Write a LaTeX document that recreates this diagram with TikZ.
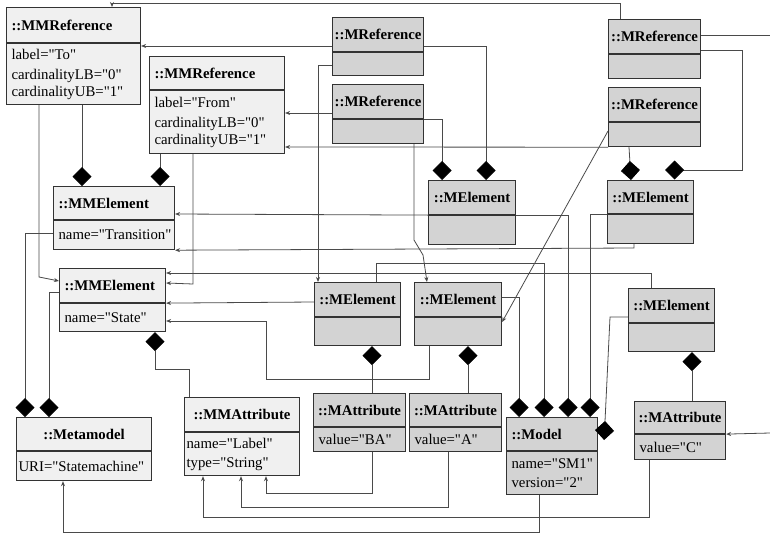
\documentclass[tikz,border=0pt]{standalone}
\usepackage{fontspec}
\setmainfont{Liberation Serif}[Ligatures=TeXOff]
\usetikzlibrary{arrows.meta,calc}
\definecolor{mmfill}{HTML}{F0F0F0}
\definecolor{mfill}{HTML}{D3D3D3}
\definecolor{boxline}{HTML}{333333}
\definecolor{wire}{HTML}{4A4A4A}
\newcommand\boxfont{\fontsize{14.8pt}{17pt}\selectfont}
\tikzset{
  boxhead/.style={draw=boxline, line width=1.1pt, anchor=north west, inner xsep=5pt, inner ysep=0pt, font=\boxfont\bfseries},
  boxbody/.style={draw=boxline, line width=1.1pt, anchor=north west, inner xsep=5pt, inner ysep=0pt, align=left, font=\boxfont},
  metabox/.style={fill=mmfill},
  modelbox/.style={fill=mfill},
  plainwire/.style={draw=wire, line width=0.8pt},
  reflink/.style={plainwire, -{Stealth[length=5pt,width=4pt]}},
  complink/.style={plainwire, -{Diamond[length=19pt,width=19pt,color=black,fill=black]}}
}

\begin{document}
\begin{tikzpicture}[x=1pt, y=-1pt, every node/.style={font=\boxfont}]
  \useasboundingbox (0,0) rectangle (770,535);
  % metamodel objects
  \node[boxhead, metabox, align=left, text width=124pt, minimum height=35pt] (refTo) at (6,7) {::MMReference};
  \node[boxbody, metabox, text width=124pt, minimum height=61pt] (refToB) at (refTo.south west) {label="To"\\[3pt]cardinalityLB="0"\\cardinalityUB="1"};
  \node[boxhead, metabox, align=left, text width=125pt, minimum height=33pt] (refFrom) at (149,56) {::MMReference};
  \node[boxbody, metabox, text width=125pt, minimum height=63pt] (refFromB) at (refFrom.south west) {label="From"\\[3pt]cardinalityLB="0"\\cardinalityUB="1"};
  \node[boxhead, metabox, align=left, text width=111pt, minimum height=33pt] (elTrans) at (53,186) {::MMElement};
  \node[boxbody, metabox, text width=111pt, minimum height=29pt] (elTransB) at (elTrans.south west) {name="Transition"};
  \node[boxhead, metabox, align=left, text width=96pt, minimum height=34pt] (elState) at (59,268) {::MMElement};
  \node[boxbody, metabox, text width=96pt, minimum height=28pt] (elStateB) at (elState.south west) {name="State"};
  \node[boxhead, metabox, align=center, text width=125pt, minimum height=33pt] (metamodel) at (16,417) {::Metamodel};
  \node[boxbody, metabox, inner xsep=2pt, text width=131pt, minimum height=29pt] (metamodelB) at (metamodel.south west) {URI="Statemachine"};
  \node[boxhead, metabox, align=center, text width=105pt, minimum height=34pt] (attrLabel) at (184,397) {::MMAttribute};
  \node[boxbody, metabox, inner xsep=2pt, text width=111pt, minimum height=43pt] (attrLabelB) at (attrLabel.south west) {name="Label"\\[2pt]type="String"};

  % model objects
  \node[boxhead, modelbox, inner xsep=1pt, minimum width=91pt, minimum height=34pt] (refP) at (332,17) {::MReference};
  \node[boxbody, modelbox, text width=81pt, minimum height=23pt] (refPB) at (refP.south west) {};
  \node[boxhead, modelbox, inner xsep=1pt, minimum width=91pt, minimum height=34pt] (refQ) at (332,84) {::MReference};
  \node[boxbody, modelbox, text width=81pt, minimum height=24pt] (refQB) at (refQ.south west) {};
  \node[boxhead, modelbox, inner xsep=1pt, minimum width=92pt, minimum height=34pt] (refR) at (608,19) {::MReference};
  \node[boxbody, modelbox, text width=82pt, minimum height=24pt] (refRB) at (refR.south west) {};
  \node[boxhead, modelbox, inner xsep=1pt, minimum width=92pt, minimum height=34pt] (refS) at (608,87) {::MReference};
  \node[boxbody, modelbox, text width=82pt, minimum height=24pt] (refSB) at (refS.south west) {};
  \node[boxhead, modelbox, inner xsep=1pt, minimum width=87pt, minimum height=34pt] (elM) at (428,180) {::MElement};
  \node[boxbody, modelbox, text width=77pt, minimum height=29pt] (elMB) at (elM.south west) {};
  \node[boxhead, modelbox, inner xsep=1pt, minimum width=86pt, minimum height=33pt] (elL) at (607,180) {::MElement};
  \node[boxbody, modelbox, text width=76pt, minimum height=29pt] (elLB) at (elL.south west) {};
  \node[boxhead, modelbox, inner xsep=1pt, minimum width=86pt, minimum height=34pt] (elN) at (314,282) {::MElement};
  \node[boxbody, modelbox, text width=76pt, minimum height=28pt] (elNB) at (elN.south west) {};
  \node[boxhead, modelbox, inner xsep=1pt, minimum width=87pt, minimum height=34pt] (elO) at (414,282) {::MElement};
  \node[boxbody, modelbox, text width=77pt, minimum height=28pt] (elOB) at (elO.south west) {};
  \node[boxhead, modelbox, inner xsep=1pt, minimum width=86pt, minimum height=34pt] (elK) at (628,288) {::MElement};
  \node[boxbody, modelbox, text width=76pt, minimum height=28pt] (elKB) at (elK.south west) {};
  \node[boxhead, modelbox, inner xsep=1pt, minimum width=92pt, minimum height=33pt] (attrBA) at (313,393) {::MAttribute};
  \node[boxbody, modelbox, text width=82pt, minimum height=24pt] (attrBAB) at (attrBA.south west) {value="BA"};
  \node[boxhead, modelbox, inner xsep=1pt, minimum width=92pt, minimum height=33pt] (attrA) at (409,393) {::MAttribute};
  \node[boxbody, modelbox, text width=82pt, minimum height=24pt] (attrAB) at (attrA.south west) {value="A"};
  \node[boxhead, modelbox, align=left, text width=81pt, minimum height=33pt] (model) at (506,417) {::Model};
  \node[boxbody, modelbox, text width=81pt, minimum height=43pt] (modelB) at (model.south west) {name="SM1"\\[2pt]version="2"};
  \node[boxhead, modelbox, inner xsep=1pt, minimum width=91pt, minimum height=32pt] (attrC) at (634,401) {::MAttribute};
  \node[boxbody, modelbox, text width=81pt, minimum height=25pt] (attrCB) at (attrC.south west) {value="C"};

  \coordinate (offR) at (770,35);
  \coordinate (offJ) at (770,433);

  % instance-of links
  \draw[reflink] (refR.north -| 620,0) -- (620,3) -| (refTo.north -| 112,0);
  \draw[reflink] (refP.west |- 0,46) -- (refTo.east |- 0,46);
  \draw[reflink] (refQ.west |- 0,113) -- (refFrom.east |- 0,113);
  \draw[reflink] (refSB.south west) -- (refFromB.east |- 0,147);
  \draw[reflink] (refSB.west |- 0,131) -- (elOB.east |- 0,322);
  \draw[reflink] (refPB.west |- 0,65) -| (elN.north -| 318,0);
  \draw[reflink] (refQB.south -| 414,0) -- (414,240) -- (423,255) -- (elO.north -| 427,0);
  \draw[reflink] (refToB.south -| 39,0) -- (39,277) -- (elState.west |- 0,281);
  \draw[reflink] (refFromB.south -| 193,0) -- (193,284) -- (elState.east |- 0,283);
  \draw[reflink] (elM.south west) -- (elTrans.east |- 0,214);
  \draw[reflink] (elLB.south -| 634,0) -- (634,248) -- (elTransB.south east);
  \draw[reflink] (elK.north -| 651,0) |- (elState.east |- 0,273);
  \draw[reflink] (elN.west |- 0,302) -- (elState.south east);
  \draw[reflink] (elOB.south -| 429,0) |- (266,379) |- (elStateB.east |- 0,321);
  \draw[reflink] (modelB.south -| 539,0) |- (63,532) -- (metamodelB.south -| 63,0);
  \draw[reflink] (attrBAB.south -| 372,0) |- (266,493) -- (attrLabelB.south -| 266,0);
  \draw[reflink] (attrAB.south -| 448,0) |- (241,507) -- (attrLabelB.south -| 241,0);
  \draw[reflink] (attrCB.south -| 649,0) |- (203,517) -- (attrLabelB.south -| 203,0);
  \draw[reflink] (offJ) -- (attrC.south east);
  \draw[plainwire] (refR.east |- 0,35) -- (offR);

  % containment links
  \draw[complink] (refToB.south -| 82,0) -- (elTrans.north -| 82,0);
  \draw[complink] (refFromB.south -| 160,0) -- (elTrans.north -| 160,0);
  \draw[complink] (refQ.south east) -| (elM.north -| 442,0);
  \draw[complink] (refP.east |- 0,46) -| (elM.north -| 486,0);
  \draw[complink] (refSB.south -| 629,0) -- (elL.north -| 631,0);
  \draw[complink] (refR.east |- 0,50) -- (742,50) |- ($(elL.north -| 665,0)+(0,-10)$);
  \draw[complink] (attrLabel.north -| 189,0) |- (155,369) -- (elStateB.south -| 155,0);
  \draw[complink] (elTransB.west |- 0,233) -| (metamodel.north -| 25,0);
  \draw[complink] (elState.west |- 0,292) -| (metamodel.north -| 49,0);
  \draw[complink] (attrBA.north -| 372,0) -- (elNB.south -| 372,0);
  \draw[complink] (attrA.north -| 468,0) -- (elOB.south -| 468,0);
  \draw[complink] (attrC.north -| 692,0) -- (elKB.south -| 692,0);
  \draw[complink] (elO.east |- 0,297) -| (model.north -| 519,0);
  \draw[complink] (elN.north -| 376,0) |- (544,263) -- (model.north -| 544,0);
  \draw[complink] (elM.south east) -| (model.north -| 568,0);
  \draw[complink] (elL.south west) -| (model.north -| 590,0);
  \draw[complink] (elK.west |- 0,317) -- (610,317) -- ($(model.north east)+(6,23)$);
\end{tikzpicture}
\end{document}
